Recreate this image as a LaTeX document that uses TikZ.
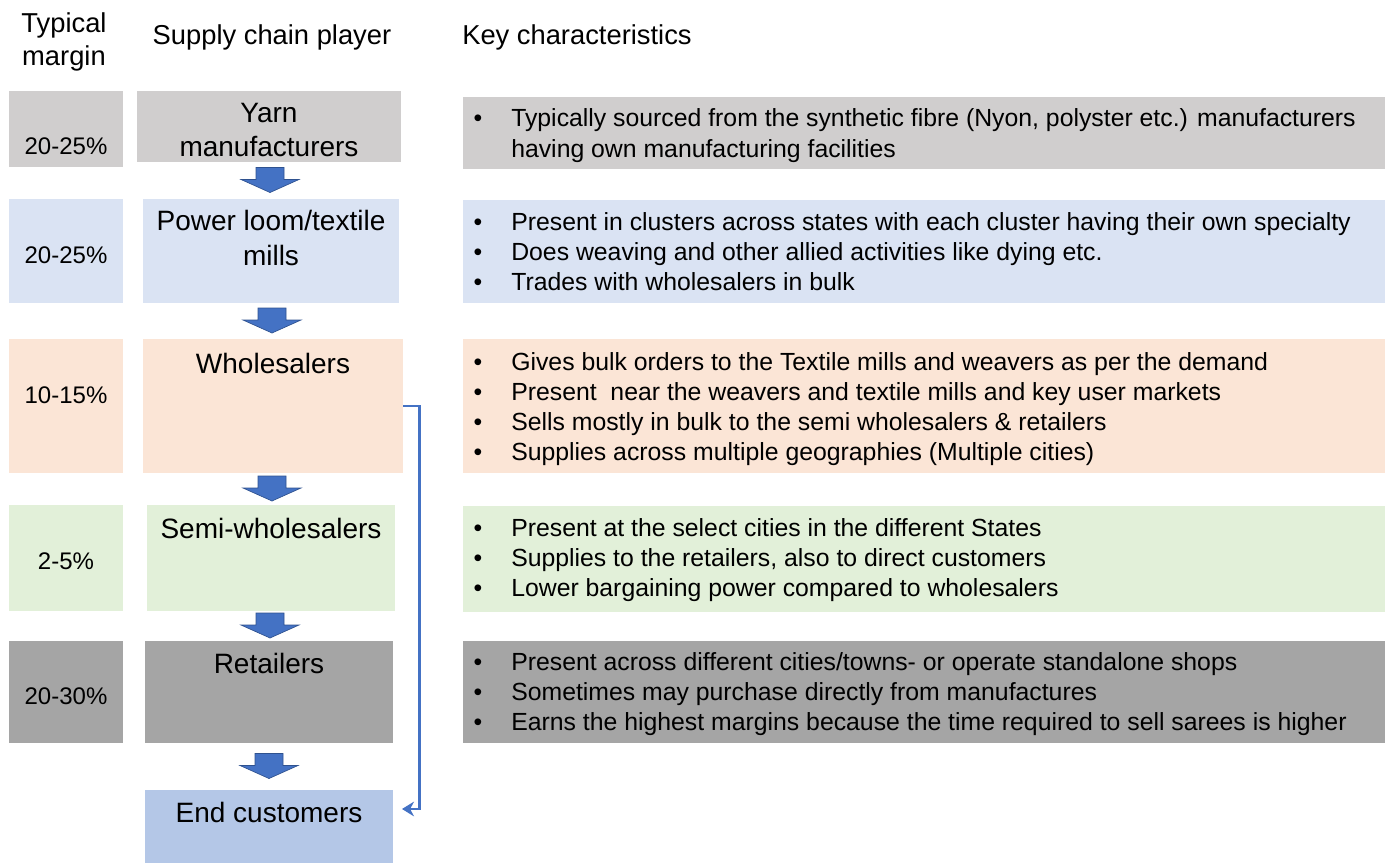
\documentclass[tikz,border=0pt]{standalone}
\usepackage{fontspec}
\setmainfont{Liberation Sans}
\usetikzlibrary{arrows.meta, positioning, calc, fit}

\definecolor{yarnfill}{HTML}{D0CECE}
\definecolor{millfill}{HTML}{DAE3F3}
\definecolor{wholefill}{HTML}{FBE5D6}
\definecolor{semifill}{HTML}{E2F0D9}
\definecolor{retailfill}{HTML}{A5A5A5}
\definecolor{endfill}{HTML}{B4C7E7}
\definecolor{flow}{HTML}{4472C4}
\definecolor{flowedge}{HTML}{2F528F}

\newcommand{\px}{0.75pt}

\begin{document}
\begin{tikzpicture}[x=\px, y=-\px,
  cell/.style={inner sep=0pt, draw=none},
  head/.style={font=\fontsize{20.5}{24.75}\selectfont, anchor=base, inner sep=0pt},
  player/.style={font=\fontsize{21}{25.5}\selectfont, align=center, anchor=base, inner sep=0pt},
  margin/.style={font=\fontsize{18}{22}\selectfont, anchor=base, inner sep=0pt},
  point/.style={font=\fontsize{18.6}{22.5}\selectfont, anchor=base west, inner sep=0pt},
  dot/.style={font=\fontsize{18.6}{22.5}\selectfont, anchor=base, inner sep=0pt},
  link/.style={flow, line width=2pt, -{Stealth[length=9pt, width=11pt]}},
  blockdown/.pic={
    \filldraw[fill=flow, draw=flowedge, line width=0.5pt]
      (-14,-13) -- (14,-13) -- (14,-1) -- (29,-1) -- (0,12)
      -- (-29,-1) -- (-14,-1) -- cycle;}
]
  \useasboundingbox (0,0) rectangle (1389,863);

  % Column heads (multi-line nodes sit on their last baseline)
  \node[head, align=center] (hmargin) at (64,66) {Typical\\margin};
  \node[head] (hplayer) at (272,45) {Supply chain player};
  \node[head, anchor=base west] (hkey) at (462,45) {Key characteristics};

  % Margin column
  \node[cell, fill=yarnfill,   fit={(9,91) (123,167)}]  (m1) {};
  \node[cell, fill=millfill,   fit={(9,199) (123,303)}] (m2) {};
  \node[cell, fill=wholefill,  fit={(9,339) (123,473)}] (m3) {};
  \node[cell, fill=semifill,   fit={(9,505) (123,611)}] (m4) {};
  \node[cell, fill=retailfill, fit={(9,641) (123,743)}] (m5) {};
  \node[margin] at (m1 |- 0,155) {20-25\%};
  \node[margin] at (m2 |- 0,263) {20-25\%};
  \node[margin] at (m3 |- 0,403) {10-15\%};
  \node[margin] at (m4 |- 0,569) {2-5\%};
  \node[margin] at (m5 |- 0,704) {20-30\%};

  % Supply chain players
  \node[cell, fill=yarnfill,   fit={(137,91) (401,162)}]  (yarn) {};
  \node[cell, fill=millfill,   fit={(143,199) (399,303)}] (mill) {};
  \node[cell, fill=wholefill,  fit={(143,339) (403,473)}] (whole) {};
  \node[cell, fill=semifill,   fit={(147,505) (395,611)}] (semi) {};
  \node[cell, fill=retailfill, fit={(145,641) (393,743)}] (retail) {};
  \node[cell, fill=endfill,    fit={(145,790) (393,863)}] (endc) {};
  \node[player] (yarn-t)   at (yarn |- 0,157)   {Yarn\\manufacturers};
  \node[player] (mill-t)   at (mill |- 0,265)   {Power loom/textile\\mills};
  \node[player] (whole-t)  at (whole |- 0,373)  {Wholesalers};
  \node[player] (semi-t)   at (semi |- 0,538)   {Semi-wholesalers};
  \node[player] (retail-t) at (retail |- 0,673) {Retailers};
  \node[player] (endc-t)   at (endc |- 0,822)   {End customers};

  % Block arrows down the chain
  \pic at ($(yarn.south)!0.5!(mill.north)$)     {blockdown};
  \pic at ($(mill.south)!0.5!(whole.north)$)    {blockdown};
  \pic at ($(whole.south)!0.5!(semi.north)$)    {blockdown};
  \pic at ($(semi.south)!0.5!(retail.north)$)   {blockdown};
  \pic at ($(retail.south)!0.5!(endc.north)$)   {blockdown};

  % Wholesalers also sell straight to customers
  \coordinate (back) at (402,809);
  \draw[link] (whole.east) -- ++(16,0) |- (back);

  % Key characteristics
  \node[cell, fill=yarnfill,   fit={(463,97) (1385,169)}]  (k1) {};
  \node[cell, fill=millfill,   fit={(463,200) (1385,303)}] (k2) {};
  \node[cell, fill=wholefill,  fit={(463,339) (1385,473)}] (k3) {};
  \node[cell, fill=semifill,   fit={(463,506) (1385,612)}] (k4) {};
  \node[cell, fill=retailfill, fit={(463,641) (1385,743)}] (k5) {};

  \node[dot] (b10) at (478,127) {\textbullet};
  \node[point] (p10) at (511,127)
    {Typically sourced from the synthetic fibre (Nyon, polyster etc.) manufacturers};
  \node[point] (p11) at (511,158) {having own manufacturing facilities};

  \foreach \txt [count=\i from 0] in {
      {Present in clusters across states with each cluster having their own specialty},
      {Does weaving and other allied activities like dying etc.},
      {Trades with wholesalers in bulk}} {
    \node[dot] (b2\i) at (478,230+30*\i) {\textbullet};
    \node[point] (p2\i) at (511,230+30*\i) {\txt};
  }
  \foreach \txt [count=\i from 0] in {
      {Gives bulk orders to the Textile mills and weavers as per the demand},
      {Present\ \ near the weavers and textile mills and key user markets},
      {Sells mostly in bulk to the semi wholesalers \& retailers},
      {Supplies across multiple geographies (Multiple cities)}} {
    \node[dot] (b3\i) at (478,370+30*\i) {\textbullet};
    \node[point] (p3\i) at (511,370+30*\i) {\txt};
  }
  \foreach \txt [count=\i from 0] in {
      {Present at the select cities in the different States},
      {Supplies to the retailers, also to direct customers},
      {Lower bargaining power compared to wholesalers}} {
    \node[dot] (b4\i) at (478,536+30*\i) {\textbullet};
    \node[point] (p4\i) at (511,536+30*\i) {\txt};
  }
  \foreach \txt [count=\i from 0] in {
      {Present across different cities/towns- or operate standalone shops},
      {Sometimes may purchase directly from manufactures},
      {Earns the highest margins because the time required to sell sarees is higher}} {
    \node[dot] (b5\i) at (478,670+30*\i) {\textbullet};
    \node[point] (p5\i) at (511,670+30*\i) {\txt};
  }
\end{tikzpicture}
\end{document}
